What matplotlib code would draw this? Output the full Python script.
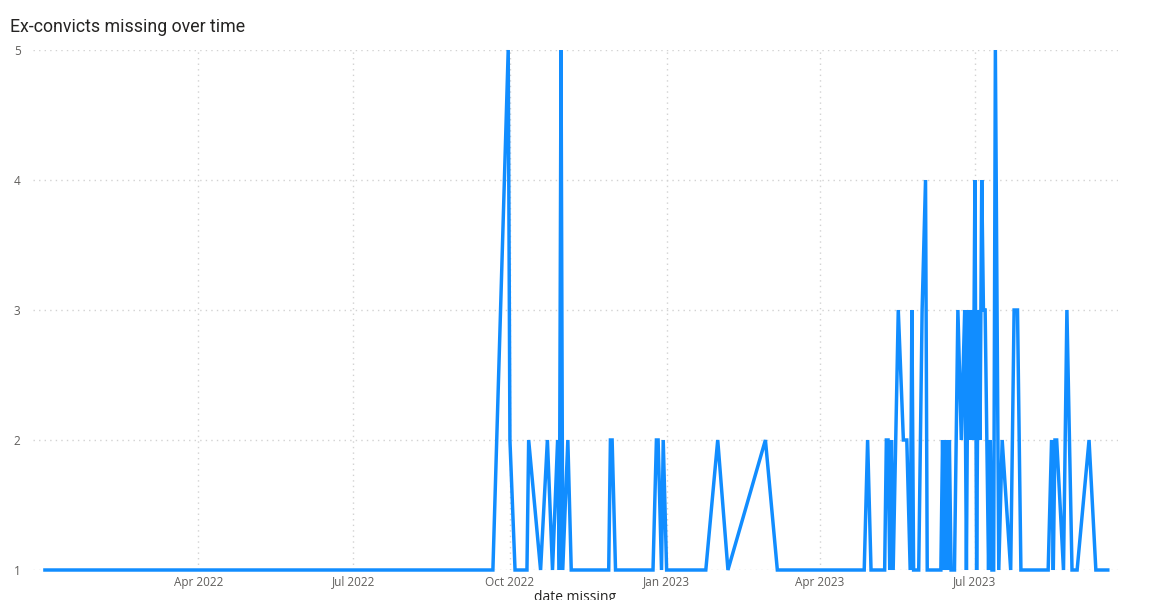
import matplotlib
matplotlib.use("Agg")
import matplotlib.pyplot as plt
import matplotlib.dates as mdates
import pandas as pd

# ---- data ----
dates = [
    "2022-01-01", "2022-09-21", "2022-09-30", "2022-10-01", "2022-10-04",
    "2022-10-11", "2022-10-12", "2022-10-19", "2022-10-23", "2022-10-26",
    "2022-10-29", "2022-10-30", "2022-10-31", "2022-11-01", "2022-11-04",
    "2022-11-06", "2022-11-28", "2022-11-29", "2022-11-30", "2022-12-02",
    "2022-12-24", "2022-12-26", "2022-12-27", "2022-12-29", "2022-12-30",
    "2023-01-01", "2023-01-24", "2023-01-31", "2023-02-06", "2023-02-28",
    "2023-03-07", "2023-04-27", "2023-04-29", "2023-05-01", "2023-05-09",
    "2023-05-10", "2023-05-11", "2023-05-12", "2023-05-13", "2023-05-14",
    "2023-05-17", "2023-05-20", "2023-05-22", "2023-05-24", "2023-05-25",
    "2023-05-26", "2023-05-29", "2023-05-31", "2023-06-02", "2023-06-03",
    "2023-06-11", "2023-06-12", "2023-06-13", "2023-06-14", "2023-06-15",
    "2023-06-16", "2023-06-17", "2023-06-19", "2023-06-21", "2023-06-23",
    "2023-06-25", "2023-06-26", "2023-06-27", "2023-06-28", "2023-06-29",
    "2023-06-30", "2023-07-01", "2023-07-02", "2023-07-03", "2023-07-04",
    "2023-07-05", "2023-07-06", "2023-07-07", "2023-07-08", "2023-07-09",
    "2023-07-10", "2023-07-11", "2023-07-12", "2023-07-13", "2023-07-15",
    "2023-07-17", "2023-07-22", "2023-07-24", "2023-07-26", "2023-07-28",
    "2023-08-13", "2023-08-15", "2023-08-16", "2023-08-17", "2023-08-18",
    "2023-08-22", "2023-08-24", "2023-08-27", "2023-08-30", "2023-09-06",
    "2023-09-10", "2023-09-17",
]
counts = [
    1, 1, 5, 2, 1,
    1, 2, 1, 2, 1,
    2, 1, 5, 1, 2,
    1, 1, 2, 2, 1,
    1, 2, 2, 1, 2,
    1, 1, 2, 1, 2,
    1, 1, 2, 1, 1,
    2, 2, 1, 2, 1,
    3, 2, 2, 1, 3,
    1, 1, 3, 4, 1,
    1, 2, 1, 2, 1,
    2, 1, 1, 3, 2,
    3, 1, 3, 2, 3,
    2, 4, 1, 3, 2,
    4, 3, 3, 2, 1,
    2, 1, 1, 5, 1,
    2, 1, 3, 3, 1,
    1, 2, 1, 2, 2,
    1, 3, 1, 1, 2,
    1, 1,
]
y_ticks = [1, 2, 3, 4, 5]
x_tick_dates = ["2022-04-01", "2022-07-01", "2022-10-01",
                "2023-01-01", "2023-04-01", "2023-07-01"]
x_range = ["2021-12-25", "2023-09-23"]

title = "Ex-convicts missing over time"
x_label = "date missing"

# ---- figure ----
plt.rcParams['font.family'] = ['Open Sans', 'DejaVu Sans']
fig = plt.figure(figsize=(11.69, 6.0), dpi=100)
ax = fig.add_axes([33 / 1169, 1 - 570 / 600, (1118 - 33) / 1169, (570 - 50) / 600])

x = pd.to_datetime(dates)
ax.plot(x, counts, color="#118DFF", linewidth=2.5, clip_on=False,
        solid_joinstyle="miter", zorder=3)

ax.set_ylim(1, 5)
ax.set_yticks(y_ticks)
ax.set_xlim(pd.to_datetime(x_range[0]), pd.to_datetime(x_range[1]))
ax.set_xticks(pd.to_datetime(x_tick_dates))
ax.xaxis.set_major_formatter(mdates.DateFormatter("%b %Y"))

ax.grid(True, color="#D2D2D2", linestyle=(0, (1, 3)), linewidth=1.0)
for s in ax.spines.values():
    s.set_visible(False)
ax.tick_params(axis="both", length=0, labelsize=8.5, labelcolor="#605E5C")
ax.tick_params(axis="y", pad=9)
ax.tick_params(axis="x", pad=4)

fig.text(575 / 1169, 1 - 590 / 600, x_label, fontsize=10, color="#252423",
         ha="center", va="top")
fig.text(10 / 1169, 1 - 27 / 600, title, fontsize=12.8, color="#252423",
         ha="left", va="center", family=["Roboto", "DejaVu Sans"])

fig.savefig("out.png", dpi=100)
